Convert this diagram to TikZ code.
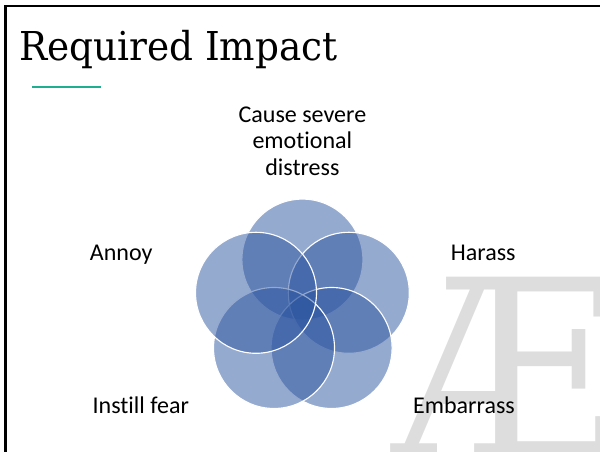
\documentclass[tikz,border=0pt]{standalone}
\usepackage{fontspec}
\setmainfont[Ligatures=NoCommon]{Carlito}
\newfontfamily\titlefont[FakeStretch=.94]{DejaVu Serif}
\newfontfamily\markfont[FakeStretch=.92]{DejaVu Serif}
\definecolor{petal}{HTML}{2C55A0}
\definecolor{rulegreen}{HTML}{1FAE90}
\definecolor{markgrey}{HTML}{DDDDDD}
\tikzset{
  petal/.style={circle, draw=white, line width=.8pt, fill=petal, fill opacity=.5, minimum size=3.025cm, inner sep=0pt},
  label/.style={draw=none, fill=none, align=center, font=\fontsize{17.1pt}{18.8pt}\selectfont, text=black}
}
\begin{document}
\begin{tikzpicture}
      \useasboundingbox (0.0, 0.0) rectangle (15.0, -11.3);
      \clip (0.0, 0.0) rectangle (15.0, -11.3);

      % watermark
      \node[draw=none, fill=none, text=markgrey, font=\markfont\fontsize{175pt}{175pt}\selectfont, inner sep=0pt, anchor=base west] (mark) at (9.85, -11.42) {Æ};

      % frame
      \draw[line width=1.5pt] (0.137, -11.4) -- (0.137, -0.16) -- (15.1, -0.16);

      % title
      \node[draw=none, fill=none, anchor=base west, inner sep=0pt, font=\titlefont\fontsize{28.3pt}{30pt}\selectfont] (title) at (0.47, -1.52) {Required Impact};
      \draw[rulegreen, line width=1.3pt] (0.8, -2.17) -- (2.52, -2.17);

      % circles
      \node[petal] (top) at (7.56, -6.49) {};
      \node[petal] (right) at (8.72, -7.32) {};
      \node[petal] (botright) at (8.29, -8.70) {};
      \node[petal] (botleft) at (6.85, -8.70) {};
      \node[petal] (left) at (6.40, -7.32) {};

      % labels
      \node[label] (distress) at (7.56, -3.53) {Cause severe\\emotional\\distress};
      \node[label] (annoy) at (3.03, -6.37) {Annoy};
      \node[label] (harass) at (12.08, -6.33) {Harass};
      \node[label] (fear) at (3.52, -10.12) {Instill fear};
      \node[label] (embarrass) at (11.6, -10.12) {Embarrass};
    \end{tikzpicture}
\end{document}
